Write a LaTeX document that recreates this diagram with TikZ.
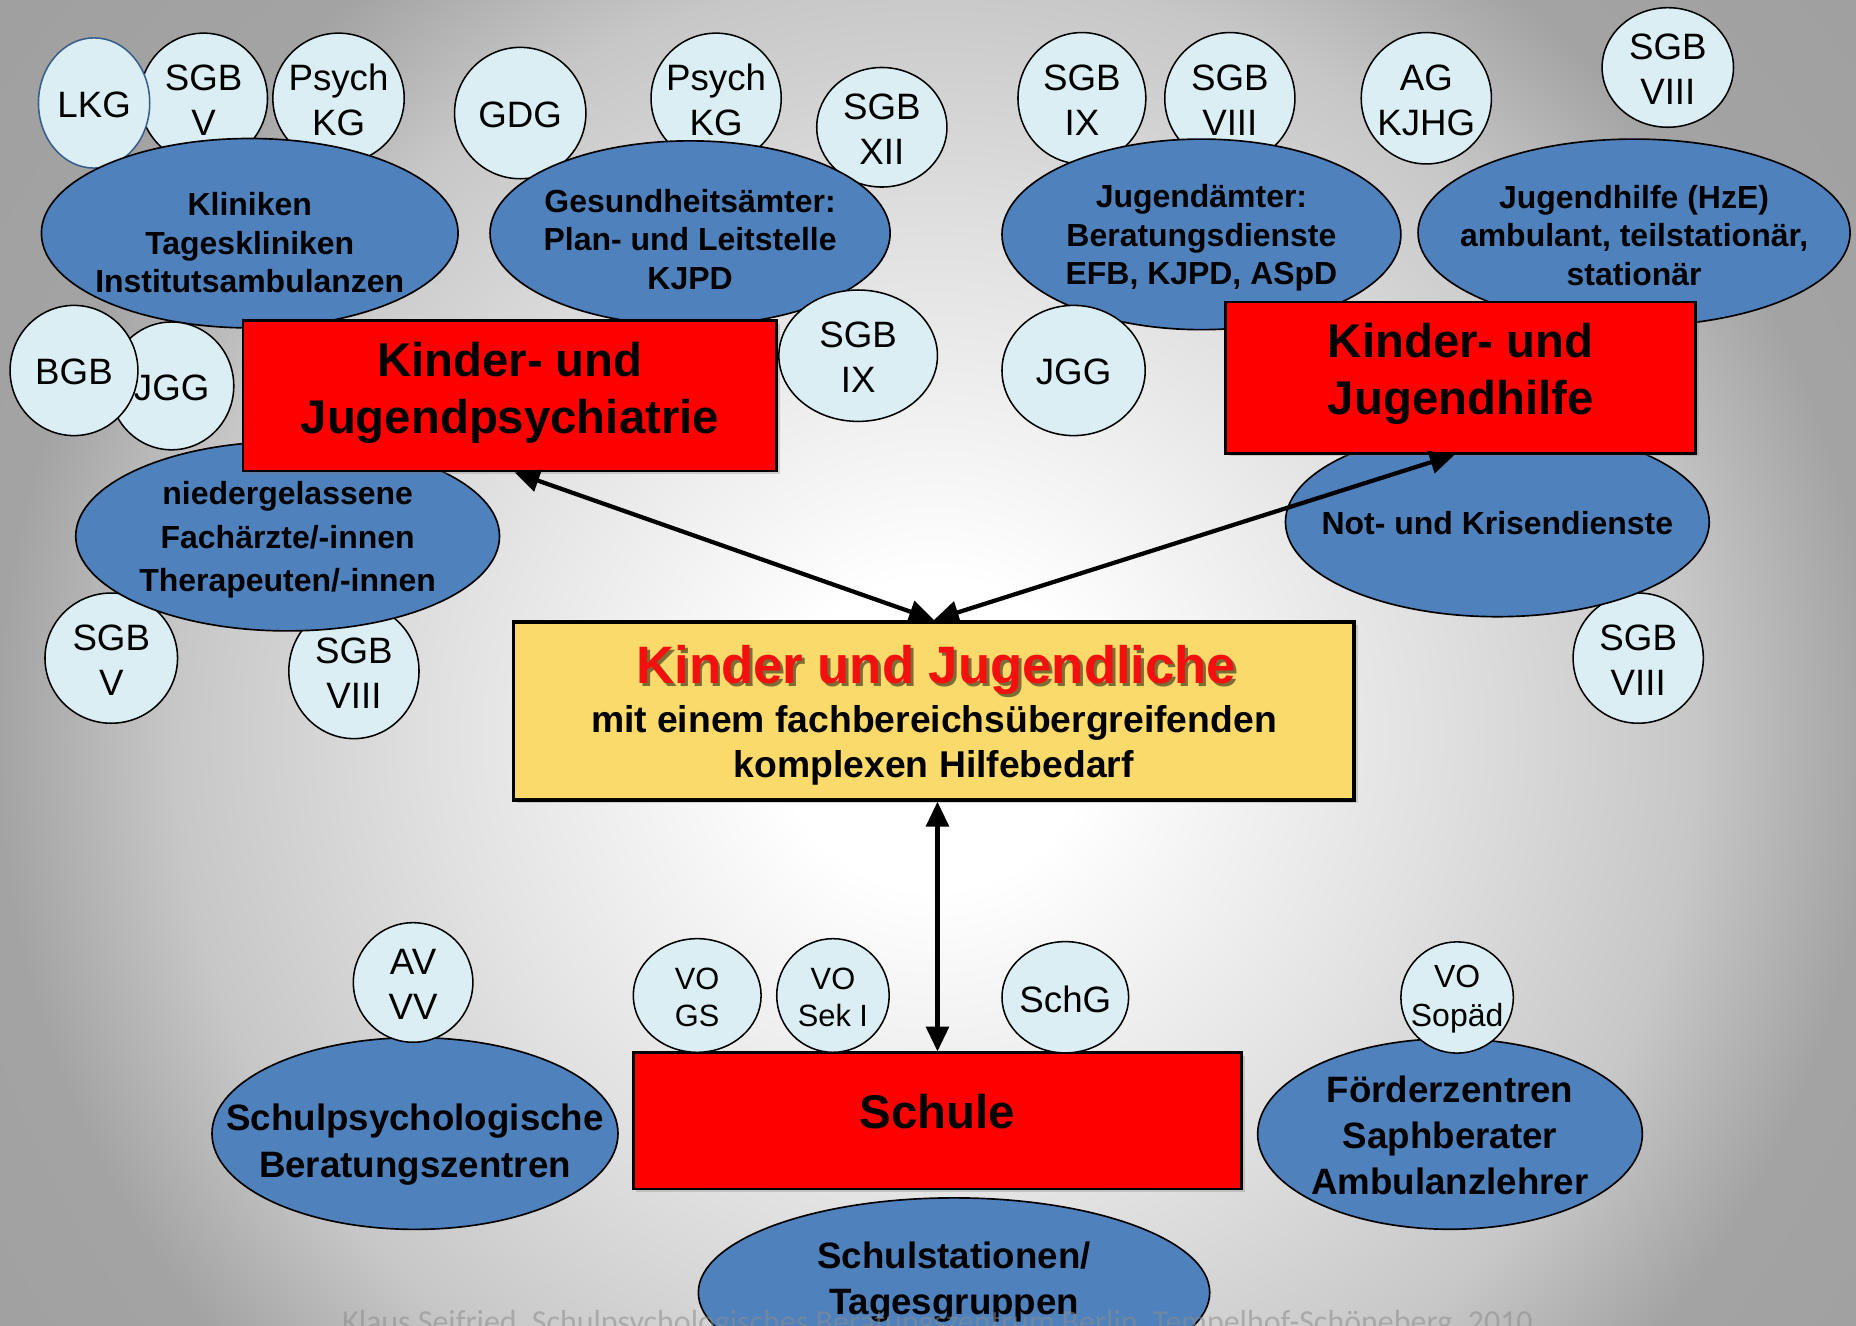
\documentclass[tikz,border=0pt]{standalone}
\usepackage{fontspec}
\setmainfont{Liberation Sans}
\newfontfamily\footfont{Carlito}
\usetikzlibrary{shapes.geometric,arrows.meta,shadows}
\definecolor{circfill}{HTML}{DBEEF4}
\definecolor{ellfill}{HTML}{4F81BD}
\definecolor{boxred}{HTML}{FF0000}
\definecolor{boxyellow}{HTML}{F9DA6B}
\definecolor{lkgline}{HTML}{385D8A}
\definecolor{titlered}{HTML}{F51010}
\definecolor{footgray}{HTML}{8C8C8C}
\definecolor{bgA}{gray}{1}
\definecolor{bgB}{gray}{0.88}
\definecolor{bgC}{gray}{0.78}
\definecolor{bgD}{gray}{0.64}
\definecolor{bgE}{gray}{0.62}
\pgfdeclareradialshading{bgshade}{\pgfpoint{0bp}{0bp}}{color(0bp)=(bgA); color(130bp)=(bgA); color(420bp)=(bgB); color(640bp)=(bgC); color(790bp)=(bgD); color(1100bp)=(bgE)}
\tikzset{
  circ/.style={ellipse, draw=black, line width=1.3pt, fill=circfill, inner sep=0pt},
  ctext/.style={align=center, inner sep=0pt, font=\fontsize{31}{38}\selectfont},
  vtext/.style={align=center, inner sep=0pt, font=\fontsize{26}{31}\selectfont},
  sopaedtext/.style={align=center, inner sep=0pt, font=\fontsize{27}{33}\selectfont},
  ell/.style={ellipse, draw=black, line width=1.4pt, fill=ellfill, inner sep=0pt},
  etext/.style={align=center, inner sep=0pt, font=\fontsize{27}{32.5}\selectfont\bfseries},
  widetext/.style={align=center, inner sep=0pt, font=\fontsize{27}{37}\selectfont\bfseries},
  bigtext/.style={align=center, inner sep=0pt, font=\fontsize{31}{39}\selectfont\bfseries},
  redbox/.style={rectangle, draw=black, line width=2.2pt, fill=boxred, inner sep=0pt,
    drop shadow={shadow xshift=2.5pt, shadow yshift=-2.5pt, opacity=0.3}},
  yellowbox/.style={rectangle, draw=black, line width=3pt, fill=boxyellow, inner sep=0pt,
    drop shadow={shadow xshift=3pt, shadow yshift=-3pt, opacity=0.3}},
  btext/.style={align=center, inner sep=0pt, font=\fontsize{40}{48}\selectfont\bfseries},
  arr/.style={line width=3.6pt, {Triangle[length=21pt,width=19pt]}-{Triangle[length=21pt,width=19pt]}},
}
% name, x, y, width, height, text
\newcommand\circnode[7][ctext]{%
  \node[circ, minimum width=#5pt, minimum height=#6pt] (#2) at (#3,#4) {};
  \node[#1] (#2t) at ([yshift=-1.5pt]#2.center) {#7};}
% name, x, y, width, height, text-y, text
\newcommand\ellnode[8][etext]{%
  \node[ell, minimum width=#5pt, minimum height=#6pt] (#2) at (#3,#4) {};
  \node[#1] (#2t) at (#3,#7) {#8};}
\begin{document}
\begin{tikzpicture}[x=1pt,y=-1pt]
\useasboundingbox (0,0) rectangle (1568,1120);
\begin{scope}
  \clip (0,0) rectangle (1568,1120);
  \node[inner sep=0pt, outer sep=0pt] (bg) at (790,620) {\pgfuseshading{bgshade}};
\end{scope}

% ---------- top left ----------
\circnode{sgbv}{172}{83}{108}{110}{SGB\\V}
\circnode{psych}{286}{83}{111}{110}{Psych\\KG}
\node[circ, draw=lkgline, minimum width=94pt, minimum height=110pt] (lkg) at (79.5,87) {};
\node[ctext] (lkgt) at ([yshift=-1.5pt]lkg.center) {LKG};
\circnode{gdg}{439.5}{95.5}{111}{111}{GDG}
\circnode{psychb}{605}{83}{110}{110}{Psych\\KG}
\circnode{sgbxii}{745}{107.5}{110}{101}{SGB\\XII}
\ellnode{klin}{211}{197}{352}{160}{205}{Kliniken\\Tageskliniken\\Institutsambulanzen}
\ellnode{gesund}{583}{197}{338}{156}{202}{Gesundheitsämter:\\Plan- und Leitstelle\\KJPD}
\circnode{jggl}{145}{326}{105}{108}{JGG}
\circnode{bgb}{62.5}{313}{108}{110}{BGB}
\circnode{sgbvl}{94}{556}{112}{110}{SGB\\V}
\circnode{sgbviiil}{299}{567}{110}{114}{SGB\\VIII}
\ellnode[widetext]{nieder}{243}{453}{358}{160}{456}{niedergelassene\\Fachärzte/-innen\\Therapeuten/-innen}
\node[redbox, minimum width=451pt, minimum height=127pt] (kjp) at (430.75,334.5) {};
\node[btext] (kjpt) at (430.75,332) {Kinder- und\\Jugendpsychiatrie};
\circnode{sgbixa}{725}{300.5}{134}{111}{SGB\\IX}

% ---------- top right ----------
\circnode{sgbixb}{914}{83}{108}{111}{SGB\\IX}
\circnode{sgbviiia}{1039}{83}{110}{111}{SGB\\VIII}
\circnode{agkjhg}{1205}{83}{110}{111}{AG\\KJHG}
\circnode{sgbviiib}{1409}{57}{111}{101}{SGB\\VIII}
\ellnode{jugamt}{1015}{198}{337}{161}{201}{Jugendämter:\\Beratungsdienste\\EFB, KJPD, ASpD}
\ellnode{jughilfe}{1380.5}{196.5}{365}{158}{199}{Jugendhilfe (HzE)\\ambulant, teilstationär,\\stationär}
\circnode{jggr}{907}{313}{121}{110}{JGG}
\circnode{sgbviiic}{1384}{556}{110}{110}{SGB\\VIII}
\ellnode{krise}{1265}{441}{358}{160}{442}{Not- und Krisendienste}
\node[redbox, minimum width=397pt, minimum height=128pt] (kjh) at (1234,319) {};
\node[btext] (kjht) at (1234,316) {Kinder- und\\Jugendhilfe};

% ---------- centre ----------
\node[yellowbox, minimum width=710pt, minimum height=150.5pt] (kids) at (789,600.5) {};
\node[inner sep=0pt, font=\fontsize{44.5}{50}\selectfont\bfseries, text=black, text opacity=0.5] (kidsts) at (793.5,568.5) {Kinder und Jugendliche};
\node[inner sep=0pt, font=\fontsize{44.5}{50}\selectfont\bfseries, text=titlered] (kidst) at (791,566) {Kinder und Jugendliche};
\node[align=center, inner sep=0pt, font=\fontsize{31.5}{38}\selectfont\bfseries] (kidsl) at (789,630) {mit einem fachbereichsübergreifenden\\komplexen Hilfebedarf};

\draw[arr] ([xshift=4pt]kjp.south) -- (kids.north);
\draw[arr] ([xshift=-5pt]kjh.south) -- (kids.north);

% ---------- bottom ----------
\ellnode[bigtext]{schulpsy}{350.6}{957.6}{343}{162}{967}{Schulpsychologische\\Beratungszentren}
\circnode{avvv}{349}{830}{101}{101}{AV\\VV}
\node[redbox, minimum width=514pt, minimum height=115pt] (schule) at (792,946.9) {};
\node[btext] (schulet) at (792,939) {Schule};
\circnode[vtext]{vogs}{589}{841}{108}{96}{VO\\GS}
\circnode[vtext]{vosek}{703.7}{841}{95}{96}{VO\\Sek I}
\circnode{schg}{900}{842.5}{107}{94}{SchG}
\ellnode[bigtext]{stat}{806}{1092}{432}{160}{1083}{Schulstationen/\\Tagesgruppen}
\ellnode[bigtext]{foerder}{1225}{958}{325}{161}{959}{Förderzentren\\Saphberater\\Ambulanzlehrer}
\circnode[sopaedtext]{sopaed}{1231}{842.7}{95}{94}{VO\\Sopäd}

\draw[arr] (schule.north) -- (schule.north |- kids.south);

\node[anchor=base, inner sep=0pt, font=\footfont\fontsize{27}{30}\selectfont, text=footgray, text opacity=0.55] (foot) at (792,1126) {Klaus Seifried, Schulpsychologisches Beratungszentrum Berlin, Tempelhof-Schöneberg, 2010};
\end{tikzpicture}
\end{document}
